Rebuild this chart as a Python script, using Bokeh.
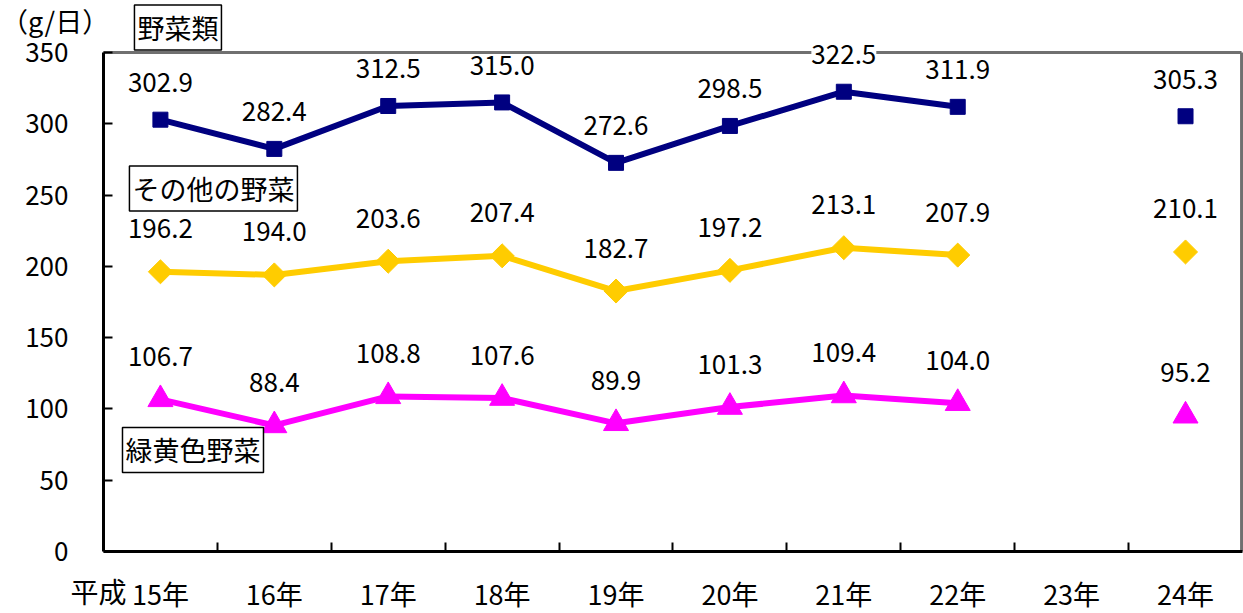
import math
from bokeh.plotting import figure
from bokeh.models import Range1d, FixedTicker, Label, LabelSet, ColumnDataSource
from bokeh.core.properties import value
from bokeh.embed import file_html
from bokeh.resources import INLINE

years = ["15年", "16年", "17年", "18年", "19年", "20年", "21年", "22年", "23年", "24年"]
total = [302.9, 282.4, 312.5, 315.0, 272.6, 298.5, 322.5, 311.9, None, 305.3]
other = [196.2, 194.0, 203.6, 207.4, 182.7, 197.2, 213.1, 207.9, None, 210.1]
gy = [106.7, 88.4, 108.8, 107.6, 89.9, 101.3, 109.4, 104.0, None, 95.2]
yticks = [0, 50, 100, 150, 200, 250, 300, 350]
YMAX = 350

FONT = "Noto Sans CJK JP"
NAVY = "#000080"
GOLD = "#FFCC00"
MAG = "#FF00FF"

W, H = 1243, 613
p = figure(width=W, height=H, output_backend="svg", toolbar_location=None,
           x_range=Range1d(-0.904, 10.009), y_range=Range1d(-43.5, 386.5),
           min_border=0)
p.background_fill_color = "white"
p.border_fill_color = "white"
p.outline_line_color = None
p.grid.visible = False

n = len(years)
xs = [i + 0.5 for i in range(n)]

# gray plot-area border (top and right)
border = ColumnDataSource(dict(x0=[0.0, n - 0.008], y0=[YMAX, 0.0], x1=[n - 0.008, n - 0.008], y1=[YMAX, YMAX]))
p.segment(x0="x0", y0="y0", x1="x1", y1="y1", source=border,
          line_color="#707070", line_width=3)

xa = p.xaxis[0]
xa.fixed_location = 0
xa.bounds = (0, n)
xa.ticker = FixedTicker(ticks=xs, minor_ticks=list(range(1, n)))
xa.major_label_overrides = {x: y for x, y in zip(xs, years)}
xa.major_tick_line_color = None
xa.minor_tick_in = 9
xa.minor_tick_out = 0
xa.minor_tick_line_width = 2
xa.minor_tick_line_color = "black"
xa.axis_line_width = 3
xa.axis_line_color = "black"
xa.major_label_text_font = FONT
xa.major_label_text_font_size = "27px"
xa.major_label_text_color = "black"
xa.major_label_standoff = 17

ya = p.yaxis[0]
ya.fixed_location = 0
ya.bounds = (0, YMAX)
ya.ticker = FixedTicker(ticks=yticks)
ya.major_tick_in = 9
ya.major_tick_out = 0
ya.major_tick_line_width = 2
ya.minor_tick_line_color = None
ya.axis_line_width = 3
ya.axis_line_color = "black"
ya.major_label_text_font = FONT
ya.major_label_text_font_size = "26px"
ya.major_label_text_color = "black"
ya.major_label_standoff = 35


def series(vals, color, marker, size, angle, dy, bg):
    ys = [float("nan") if v is None else v for v in vals]
    p.line(xs, ys, line_color=color, line_width=6)
    px = [x for x, v in zip(xs, vals) if v is not None]
    pv = [v for v in vals if v is not None]
    src = ColumnDataSource(dict(x=px, y=pv, t=[f"{v:.1f}" for v in pv]))
    p.scatter("x", "y", source=src, marker=marker, size=size, angle=angle,
              fill_color=color, line_color=color)
    ls = LabelSet(x="x", y="y", text="t", source=src, y_offset=dy,
                  text_align="center", text_baseline="middle",
                  text_font=value(FONT), text_font_size="26px", text_color="black")
    if bg:
        ls.background_fill_color = "white"
    p.add_layout(ls)


series(total, NAVY, "square", 15, 0, 37, True)
series(other, GOLD, "square", 17, math.pi / 4, 43, False)
series(gy, MAG, "triangle", 25, 0, 43, False)

for txt, x, y in [("野菜類", 0.272, 367.5), ("その他の野菜", 0.228, 254.6), ("緑黄色野菜", 0.167, 71.2)]:
    p.add_layout(Label(x=x, y=y, text=txt, text_font=FONT, text_font_size="27px",
                       text_baseline="middle", text_color="black",
                       border_line_color="black", border_line_width=1.5,
                       background_fill_color="white", padding=3))

p.add_layout(Label(x=-0.9, y=372.4, text="（g/日）", text_font=FONT, text_font_size="27px",
                   text_baseline="middle", text_color="black"))
p.add_layout(Label(x=-0.29, y=-28, text="平成", text_font=FONT, text_font_size="28px",
                   text_baseline="middle", text_color="black"))

open("out.html", "w").write(file_html(p, INLINE))
